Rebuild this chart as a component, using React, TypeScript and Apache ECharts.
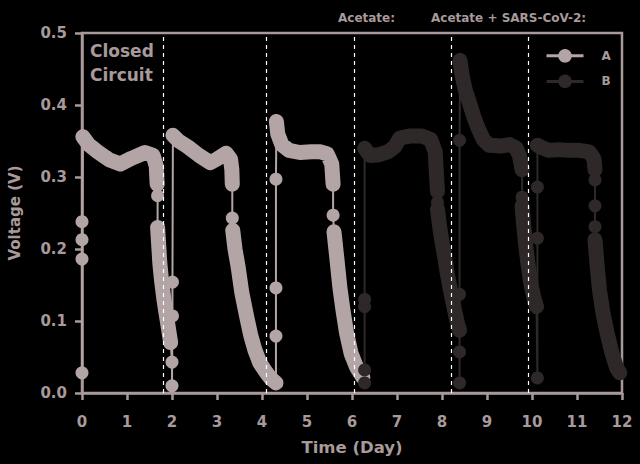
import React, { useEffect, useRef } from "react";
import * as echarts from "echarts";

// ---- Data ----
const X_TICKS = [0, 1, 2, 3, 4, 5, 6, 7, 8, 9, 10, 11, 12];
const Y_TICKS = [0.0, 0.1, 0.2, 0.3, 0.4, 0.5];
const DASHED_DAYS = [1.8, 4.09, 6.04, 8.21, 9.92];

// Series A (cycles 1-3)
const A_RISE_1 = [[0, 0.028], [0, 0.186], [0, 0.213], [0, 0.238]];
const A_UPPER_1 = [[0.02, 0.356], [0.15, 0.345], [0.35, 0.335], [0.6, 0.324], [0.85, 0.318], [1.1, 0.326], [1.4, 0.334], [1.58, 0.33], [1.65, 0.315], [1.67, 0.29]];
const A_NECK_1 = [[1.68, 0.274]];
const A_LOWER_1 = [[1.68, 0.23], [1.7, 0.21], [1.73, 0.18], [1.77, 0.155], [1.82, 0.13], [1.87, 0.11], [1.92, 0.09], [1.97, 0.07]];
const A_RISE_2 = [[2.0, 0.043], [2.0, 0.01], [2.01, 0.107], [2.01, 0.154]];
const A_UPPER_2 = [[2.02, 0.358], [2.15, 0.35], [2.35, 0.342], [2.6, 0.33], [2.85, 0.32], [3.0, 0.325], [3.2, 0.333], [3.3, 0.325], [3.33, 0.31], [3.34, 0.29]];
const A_NECK_2 = [[3.34, 0.243]];
const A_LOWER_2 = [[3.35, 0.226], [3.4, 0.2], [3.47, 0.175], [3.55, 0.14], [3.66, 0.106], [3.75, 0.08], [3.84, 0.06], [3.95, 0.042], [4.1, 0.028], [4.2, 0.02], [4.31, 0.014]];
const A_RISE_3 = [[4.31, 0.079], [4.31, 0.146], [4.31, 0.297]];
const A_UPPER_3 = [[4.32, 0.377], [4.35, 0.36], [4.44, 0.345], [4.6, 0.337], [4.84, 0.334], [5.1, 0.335], [5.3, 0.335], [5.45, 0.332], [5.55, 0.318], [5.58, 0.29]];
const A_NECK_3 = [[5.58, 0.247]];
const A_LOWER_3 = [[5.6, 0.224], [5.66, 0.189], [5.73, 0.147], [5.8, 0.115], [5.88, 0.083], [5.98, 0.055], [6.1, 0.036], [6.24, 0.022]];

// Series B (cycles 4-6)
const B_RISE_4 = [[6.28, 0.014], [6.28, 0.032], [6.28, 0.12], [6.28, 0.13]];
const B_UPPER_4 = [[6.28, 0.34], [6.4, 0.33], [6.6, 0.331], [6.8, 0.335], [6.95, 0.342], [7.06, 0.354], [7.3, 0.357], [7.55, 0.357], [7.75, 0.352], [7.85, 0.335], [7.88, 0.3], [7.9, 0.28]];
const B_NECK_4 = [[7.9, 0.265]];
const B_LOWER_4 = [[7.9, 0.255], [7.95, 0.23], [8.0, 0.21], [8.06, 0.189], [8.12, 0.165], [8.2, 0.139], [8.28, 0.115], [8.35, 0.095], [8.39, 0.087]];
const B_RISE_5 = [[8.39, 0.057], [8.39, 0.014], [8.39, 0.137], [8.39, 0.351]];
const B_UPPER_5 = [[8.4, 0.462], [8.45, 0.44], [8.52, 0.42], [8.6, 0.405], [8.7, 0.385], [8.8, 0.368], [8.92, 0.352], [9.05, 0.344], [9.3, 0.343], [9.5, 0.345], [9.65, 0.34], [9.72, 0.33], [9.78, 0.31]];
const B_NECK_5 = [[9.78, 0.272]];
const B_LOWER_5 = [[9.78, 0.26], [9.82, 0.23], [9.87, 0.2], [9.92, 0.175], [9.98, 0.15], [10.05, 0.13], [10.1, 0.12]];
const B_RISE_6 = [[10.12, 0.021], [10.12, 0.215], [10.12, 0.286]];
const B_UPPER_6 = [[10.12, 0.344], [10.25, 0.34], [10.38, 0.337], [10.6, 0.338], [10.83, 0.337], [11.05, 0.337], [11.27, 0.335], [11.38, 0.325], [11.4, 0.31]];
const B_NECK_6 = [[11.4, 0.296], [11.4, 0.26], [11.4, 0.231]];
const B_LOWER_6 = [[11.4, 0.213], [11.45, 0.175], [11.5, 0.143], [11.58, 0.11], [11.67, 0.083], [11.78, 0.055], [11.88, 0.035], [11.95, 0.028]];

const A_ALL = [
  ...A_RISE_1, ...A_UPPER_1, ...A_NECK_1, ...A_LOWER_1,
  ...A_RISE_2, ...A_UPPER_2, ...A_NECK_2, ...A_LOWER_2,
  ...A_RISE_3, ...A_UPPER_3, ...A_NECK_3, ...A_LOWER_3,
];
const B_ALL = [
  ...B_RISE_4, ...B_UPPER_4, ...B_NECK_4, ...B_LOWER_4,
  ...B_RISE_5, ...B_UPPER_5, ...B_NECK_5, ...B_LOWER_5,
  ...B_RISE_6, ...B_UPPER_6, ...B_NECK_6, ...B_LOWER_6,
];
const joinBands = (parts: number[][][]) => {
  const out: any[] = [];
  parts.forEach((p, i) => {
    if (i > 0) out.push(null);
    out.push(...p);
  });
  return out;
};
const A_BAND = joinBands([A_UPPER_1, A_LOWER_1, A_UPPER_2, A_LOWER_2, A_UPPER_3, A_LOWER_3]);
const B_BAND = joinBands([B_UPPER_4, B_LOWER_4, B_UPPER_5, B_LOWER_5, B_UPPER_6, B_LOWER_6]);

const AXIS = "#a89a9a";
const COL_A = "#b3a5a5";
const COL_B = "#2e2828";
const FONT = "'DejaVu Sans', 'Liberation Sans', Arial, sans-serif";

export default function App() {
  const ref = useRef<HTMLDivElement>(null);
  useEffect(() => {
    if (!ref.current) return;
    const chart = echarts.init(ref.current, undefined, { renderer: "svg" });
    const thin = (name: string, data: any[], color: string, size: number) => ({
      name,
      type: "line",
      data,
      symbol: "circle",
      symbolSize: size,
      showAllSymbol: true,
      lineStyle: { color, width: 2 },
      itemStyle: { color },
      z: 3,
    });
    const band = (name: string, data: any[], color: string, w: number) => ({
      name,
      type: "line",
      data,
      showSymbol: false,
      connectNulls: false,
      lineStyle: { color, width: w, cap: "round", join: "round" },
      itemStyle: { color },
      z: 3,
    });
    chart.setOption({
      animation: false,
      backgroundColor: "#000000",
      textStyle: { fontFamily: FONT },
      grid: {
        left: 82,
        right: 18,
        top: 33,
        bottom: 71,
        outerBoundsMode: "none",
        containLabel: false,
        show: true,
        borderColor: AXIS,
        borderWidth: 2.5,
        backgroundColor: "transparent",
      },
      legend: {
        data: ["A", "B"],
        orient: "vertical",
        left: 540,
        top: 44,
        itemWidth: 37,
        itemHeight: 17,
        itemGap: 12,
        lineStyle: { width: 3 },
        textStyle: { color: AXIS, fontWeight: "bold", fontSize: 12, fontFamily: FONT, padding: [0, 0, 0, 13] },
      },
      xAxis: {
        type: "value",
        min: X_TICKS[0],
        max: X_TICKS[X_TICKS.length - 1],
        interval: 1,
        name: "Time (Day)",
        nameLocation: "middle",
        nameGap: 46,
        nameTextStyle: { color: AXIS, fontWeight: "bold", fontSize: 16.5, fontFamily: FONT },
        axisLine: { show: true, lineStyle: { color: AXIS, width: 2.5 } },
        axisTick: { show: true, length: 7, lineStyle: { color: AXIS, width: 2.5 } },
        axisLabel: { color: AXIS, fontSize: 15, fontWeight: "bold", margin: 21, fontFamily: FONT },
        splitLine: { show: false },
      },
      yAxis: {
        type: "value",
        min: Y_TICKS[0],
        max: Y_TICKS[Y_TICKS.length - 1],
        interval: 0.1,
        name: "Voltage (V)",
        nameLocation: "middle",
        nameGap: 60,
        nameTextStyle: { color: AXIS, fontWeight: "bold", fontSize: 15, fontFamily: FONT },
        axisLine: { show: true, lineStyle: { color: AXIS, width: 2.5 } },
        axisTick: { show: true, length: 7, lineStyle: { color: AXIS, width: 2.5 } },
        axisLabel: {
          color: AXIS,
          fontSize: 15,
          fontWeight: "bold",
          margin: 15,
          fontFamily: FONT,
          formatter: (v: number) => v.toFixed(1),
        },
        splitLine: { show: false },
      },
      graphic: [
        { type: "text", left: 90, top: 42, style: { text: "Closed", fill: AXIS, font: `bold 17px ${FONT}` } },
        { type: "text", left: 90, top: 66, style: { text: "Circuit", fill: AXIS, font: `bold 17px ${FONT}` } },
        { type: "text", left: 338, top: 12, style: { text: "Acetate:", fill: AXIS, font: `bold 12px ${FONT}` } },
        { type: "text", left: 431, top: 12, style: { text: "Acetate + SARS-CoV-2:", fill: AXIS, font: `bold 12px ${FONT}` } },
      ],
      series: [
        {
          name: "dashed",
          type: "line",
          data: [],
          z: 1,
          markLine: {
            silent: true,
            symbol: "none",
            label: { show: false },
            lineStyle: { color: "#ffffff", width: 1.2, type: [4, 4] },
            data: DASHED_DAYS.map((d) => ({ xAxis: d })),
          },
        },
        thin("A", A_ALL, COL_A, 13),
        band("A band", A_BAND, COL_A, 15),
        thin("B", B_ALL, COL_B, 13),
        band("B band", B_BAND, COL_B, 15),
      ],
    });
    return () => chart.dispose();
  }, []);
  return (
    <div
      ref={ref}
      style={{ position: "fixed", left: 0, top: 0, width: 640, height: 464, background: "#000" }}
    />
  );
}
